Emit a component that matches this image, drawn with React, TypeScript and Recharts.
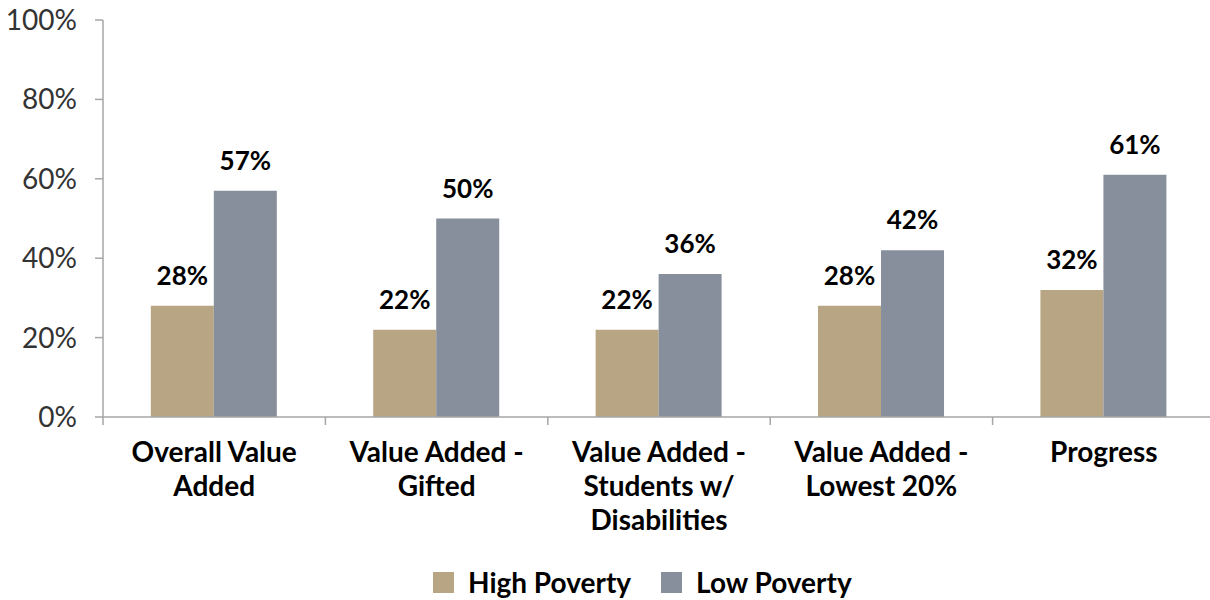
import React from "react";
import { Bar, BarChart, LabelList, Legend, XAxis, YAxis } from "recharts";

const categories = [
  "Overall Value Added",
  "Value Added - Gifted",
  "Value Added - Students w/ Disabilities",
  "Value Added - Lowest 20%",
  "Progress",
];
const categoryLines = [
  ["Overall Value", "Added"],
  ["Value Added -", "Gifted"],
  ["Value Added -", "Students w/", "Disabilities"],
  ["Value Added -", "Lowest 20%"],
  ["Progress"],
];
const highPoverty = [28, 22, 22, 28, 32];
const lowPoverty = [57, 50, 36, 42, 61];
const yTicks = [0, 20, 40, 60, 80, 100];

const data = categories.map((name, i) => ({
  name,
  high: highPoverty[i],
  low: lowPoverty[i],
}));

const FONT = "Lato, 'Open Sans', sans-serif";
const TAN = "#B8A583";
const GRAY = "#878F9C";
const AXIS = "#A6A6A6";
const W = 1210;
const H = 600;
// the plot runs slightly past the right edge of the picture
const CHART_W = 1215;
const PLOT_LEFT = 103;
const BAND = (CHART_W - PLOT_LEFT) / categories.length;
const LEGEND_H = 30;

const CategoryTick = (props: any) => {
  const { x, y, index } = props;
  const lines = categoryLines[index] || [];
  const half = BAND / 2;
  return (
    <g>
      <line x1={x - half} x2={x - half} y1={y} y2={y + 8} stroke={AXIS} strokeWidth={1.5} />
      <text
        x={x}
        y={y + 45}
        textAnchor="middle"
        fontFamily={FONT}
        fontWeight="bold"
        fontSize={28}
        fill="#000"
      >
        {lines.map((l, i) => (
          <tspan key={i} x={x} dy={i === 0 ? 0 : 34}>
            {l}
          </tspan>
        ))}
      </text>
    </g>
  );
};

const ValueLabel = (props: any) => {
  const { x, y, width, value } = props;
  return (
    <text
      x={x + width / 2}
      y={y - 21}
      textAnchor="middle"
      fontFamily={FONT}
      fontWeight="bold"
      fontSize={26}
      fill="#000"
    >
      {value}%
    </text>
  );
};

const LegendContent = () => {
  const items = [
    { label: "High Poverty", color: TAN },
    { label: "Low Poverty", color: GRAY },
  ];
  return (
    <div style={{ display: "flex", marginLeft: 433, alignItems: "center", height: LEGEND_H }}>
      {items.map((it, i) => (
        <div key={i} style={{ display: "flex", alignItems: "center", marginRight: 30 }}>
          <span style={{ width: 21, height: 21, background: it.color, display: "inline-block" }} />
          <span
            style={{
              marginLeft: 14,
              fontFamily: FONT,
              fontWeight: "bold",
              fontSize: 28,
              lineHeight: `${LEGEND_H}px`,
              color: "#000",
            }}
          >
            {it.label}
          </span>
        </div>
      ))}
    </div>
  );
};

const App = () => {
  return (
    <div
      style={{
        position: "absolute",
        left: 0,
        top: 0,
        width: W,
        height: H,
        overflow: "hidden",
        background: "#fff",
      }}
    >
      <BarChart
        width={CHART_W}
        height={H}
        data={data}
        margin={{ top: 20, right: 0, left: 0, bottom: 0 }}
        barCategoryGap="21.5%"
        barGap={0}
      >
        <XAxis
          dataKey="name"
          interval={0}
          height={183 - LEGEND_H}
          axisLine={{ stroke: AXIS, strokeWidth: 1.5 }}
          tickLine={false}
          tickSize={0}
          tickMargin={0}
          tick={<CategoryTick />}
        />
        <YAxis
          width={PLOT_LEFT}
          domain={[0, 100]}
          ticks={yTicks}
          tickFormatter={(v: number) => `${v}%`}
          axisLine={{ stroke: AXIS, strokeWidth: 1.5 }}
          tickLine={{ stroke: AXIS, strokeWidth: 1.5 }}
          tickSize={8}
          tickMargin={18}
          tick={{ fontFamily: FONT, fontSize: 28, fill: "#333" }}
        />
        <Legend
          verticalAlign="bottom"
          content={<LegendContent />}
          wrapperStyle={{ left: 0, width: W, bottom: 3, height: LEGEND_H }}
        />
        <Bar dataKey="high" fill={TAN} isAnimationActive={false}>
          <LabelList dataKey="high" content={<ValueLabel />} />
        </Bar>
        <Bar dataKey="low" fill={GRAY} isAnimationActive={false}>
          <LabelList dataKey="low" content={<ValueLabel />} />
        </Bar>
      </BarChart>
    </div>
  );
};

export default App;
